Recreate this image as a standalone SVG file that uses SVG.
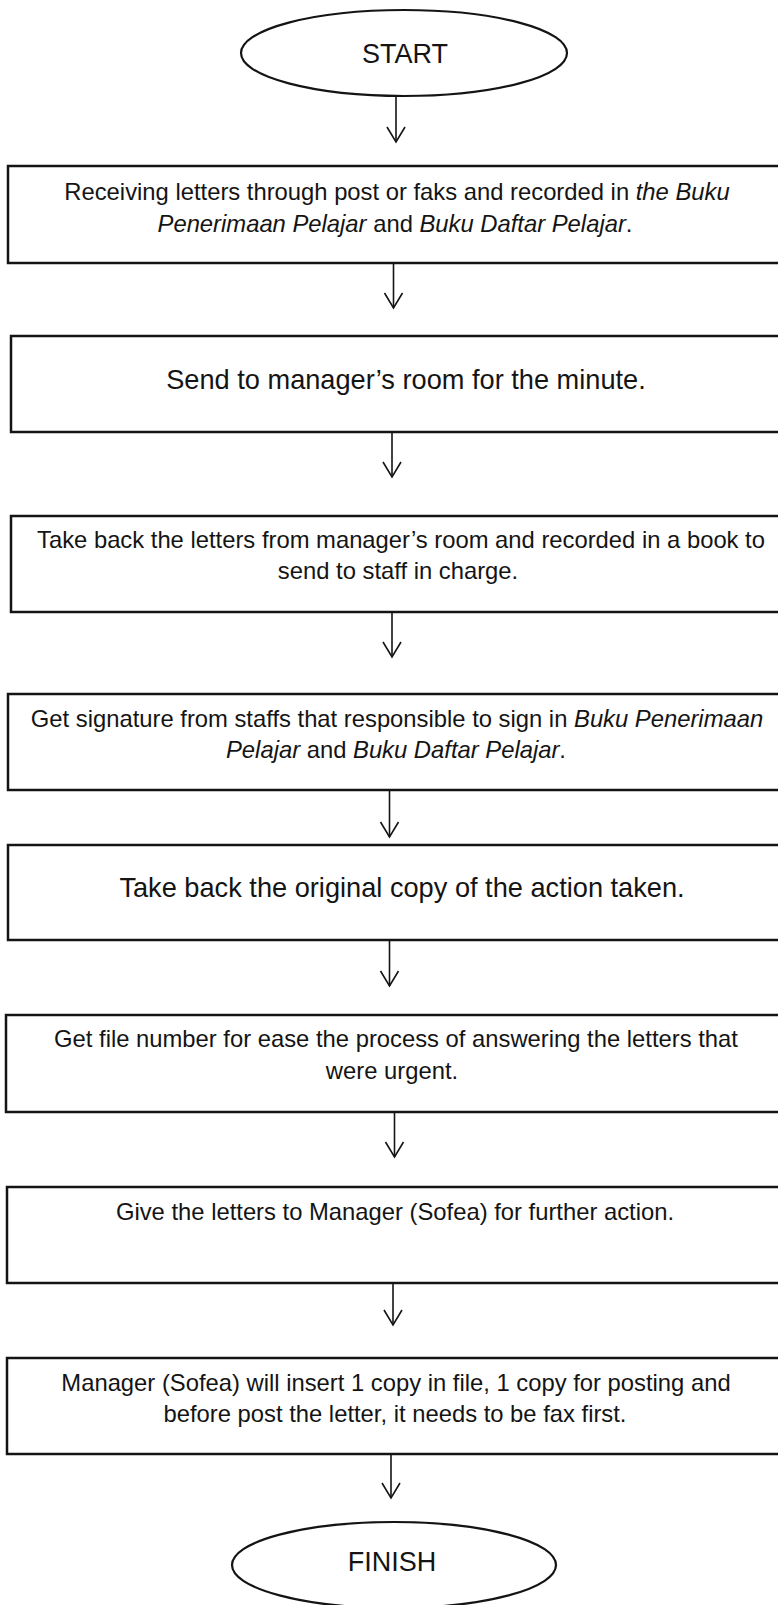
<svg xmlns="http://www.w3.org/2000/svg" width="778" height="1605" viewBox="0 0 778 1605">
<style>
  .box { fill: #ffffff; stroke: #141414; stroke-width: 2.5; }
  .term { fill: #ffffff; stroke: #141414; stroke-width: 2.2; }
  .t { font-family: "Liberation Sans", Arial, sans-serif; fill: #141414; text-anchor: middle; }
  .s { font-size: 23.8px; }
  .l { font-size: 27.2px; }
  .e { font-size: 27px; }
  .i { font-style: italic; }
  .conn line { stroke: #141414; stroke-width: 1.6; marker-end: url(#arr); }
</style>
<defs>
  <marker id="arr" markerUnits="userSpaceOnUse" markerWidth="20" markerHeight="20" refX="0" refY="0" orient="auto" overflow="visible">
    <path d="M-15,-9 L0,0 L-15,9" fill="none" stroke="#141414" stroke-width="1.6" stroke-linejoin="miter"/>
  </marker>
</defs>
<rect x="0" y="0" width="778" height="1605" fill="#ffffff"/>

<g id="start">
  <ellipse class="term" cx="404" cy="53" rx="163" ry="43"/>
  <text class="t e" x="405" y="63">START</text>
</g>

<g id="step1">
  <rect class="box" x="8" y="166" width="790" height="97"/>
  <text class="t s" x="397" y="200">Receiving letters through post or faks and recorded in <tspan class="i">the Buku</tspan></text>
  <text class="t s" x="395" y="232"><tspan class="i">Penerimaan Pelajar</tspan> and <tspan class="i">Buku Daftar Pelajar</tspan>.</text>
</g>

<g id="step2">
  <rect class="box" x="11" y="336" width="790" height="96"/>
  <text class="t l" x="406" y="389">Send to manager’s room for the minute.</text>
</g>

<g id="step3">
  <rect class="box" x="11" y="516" width="790" height="96"/>
  <text class="t s" x="401" y="548">Take back the letters from manager’s room and recorded in a book to</text>
  <text class="t s" x="398" y="579">send to staff in charge.</text>
</g>

<g id="step4">
  <rect class="box" x="8" y="694" width="790" height="96"/>
  <text class="t s" x="397" y="727">Get signature from staffs that responsible to sign in <tspan class="i">Buku Penerimaan</tspan></text>
  <text class="t s" x="396" y="758"><tspan class="i">Pelajar</tspan> and <tspan class="i">Buku Daftar Pelajar</tspan>.</text>
</g>

<g id="step5">
  <rect class="box" x="8" y="845" width="790" height="95"/>
  <text class="t l" x="402" y="897">Take back the original copy of the action taken.</text>
</g>

<g id="step6">
  <rect class="box" x="6" y="1015" width="790" height="97"/>
  <text class="t s" x="396" y="1047">Get file number for ease the process of answering the letters that</text>
  <text class="t s" x="392" y="1079">were urgent.</text>
</g>

<g id="step7">
  <rect class="box" x="7" y="1187" width="790" height="96"/>
  <text class="t s" x="395" y="1220">Give the letters to Manager (Sofea) for further action.</text>
</g>

<g id="step8">
  <rect class="box" x="7" y="1358" width="790" height="96"/>
  <text class="t s" x="396" y="1391">Manager (Sofea) will insert 1 copy in file, 1 copy for posting and</text>
  <text class="t s" x="395" y="1422">before post the letter, it needs to be fax first.</text>
</g>

<g id="finish">
  <ellipse class="term" cx="394" cy="1565" rx="162" ry="43"/>
  <text class="t e" x="392" y="1571">FINISH</text>
</g>

<g id="connectors" class="conn">
  <line x1="396" y1="96" x2="396" y2="142"/>
  <line x1="393.5" y1="263" x2="393.5" y2="308"/>
  <line x1="392" y1="432" x2="392" y2="477"/>
  <line x1="392" y1="612" x2="392" y2="657"/>
  <line x1="389.5" y1="790" x2="389.5" y2="837"/>
  <line x1="389.5" y1="940" x2="389.5" y2="986"/>
  <line x1="394.5" y1="1112" x2="394.5" y2="1157"/>
  <line x1="393" y1="1283" x2="393" y2="1325"/>
  <line x1="391" y1="1454" x2="391" y2="1498"/>
</g>
</svg>
